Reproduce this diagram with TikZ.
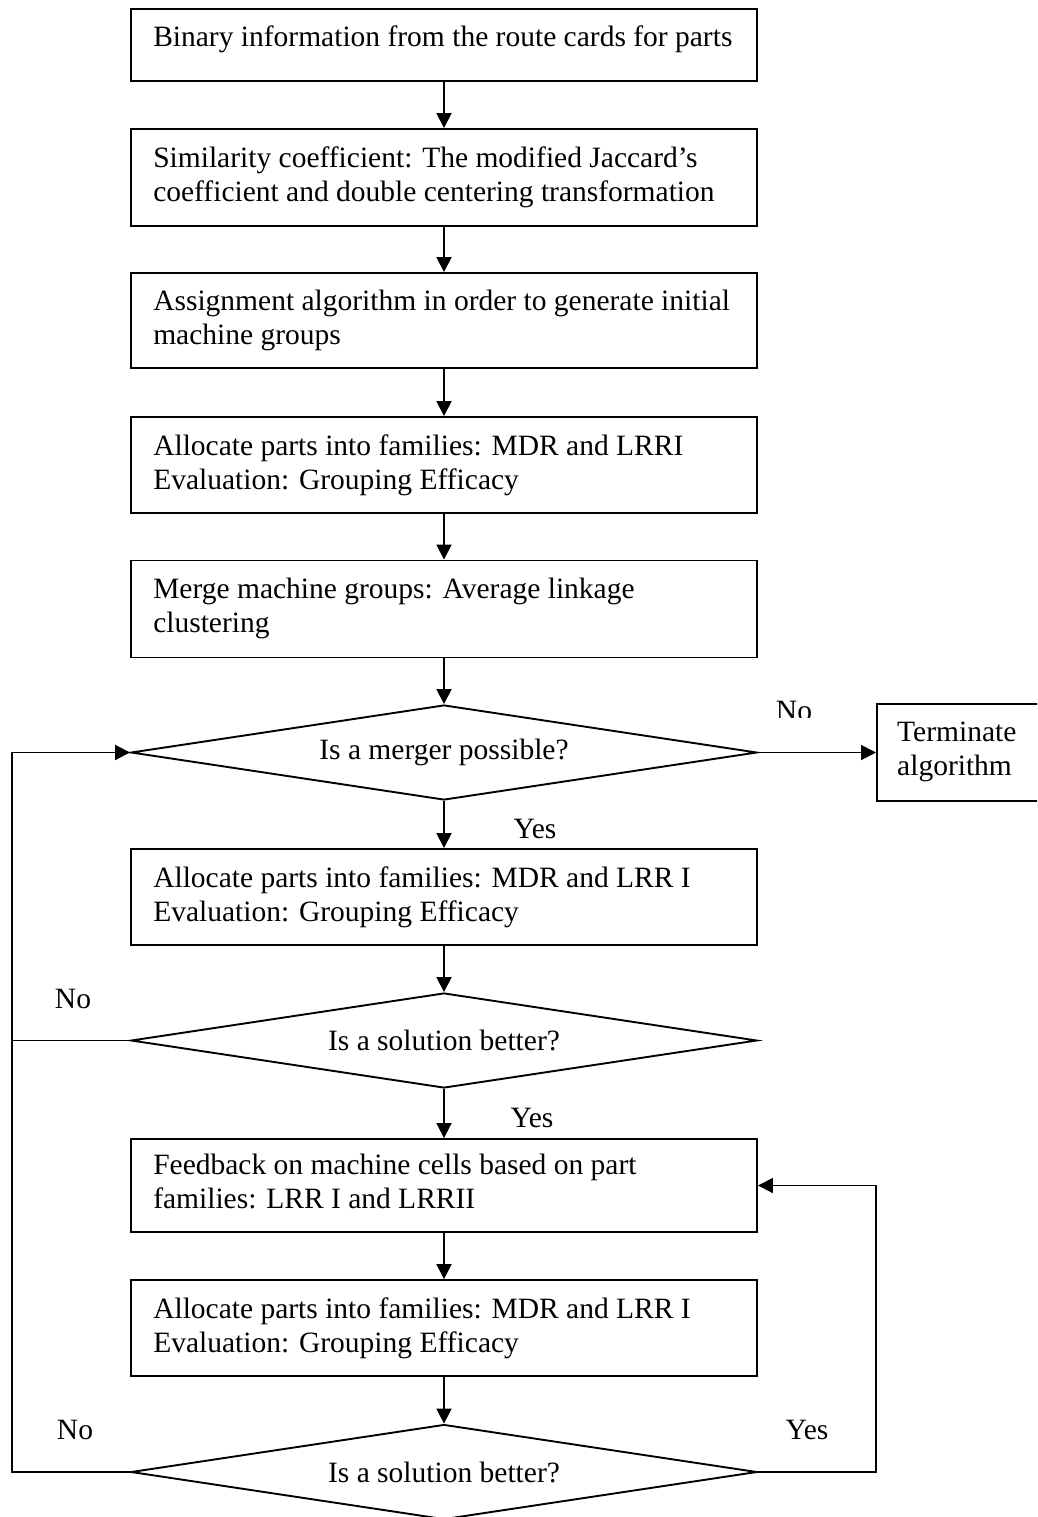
\documentclass[tikz,border=0pt]{standalone}
\usepackage{fontspec}
\setmainfont{Liberation Serif}
\usetikzlibrary{arrows.meta,shapes.geometric}
\begin{document}
\begin{tikzpicture}[x=1pt,y=-1pt,
  box/.style={draw, line width=1.9pt, rectangle, minimum width=626pt, inner sep=0pt},
  dia/.style={draw, line width=1.9pt, diamond, aspect=6.6, minimum width=626pt, minimum height=95pt, inner sep=0pt, font=\fontsize{29.5}{34}\selectfont},
  txt/.style={anchor=north west, inner sep=0pt, align=left, font=\fontsize{29.5}{34}\selectfont},
  lbl/.style={anchor=base, inner sep=0pt, font=\fontsize{29.5}{34}\selectfont},
  conn/.style={line width=1.9pt},
  arr/.style={conn, -{Triangle[length=15pt,width=15pt]}}]
\clip (0,0) rectangle (1037,1517);
% boxes
\node[box, minimum height=72pt] (b1) at (444,45) {};
\node[box, minimum height=97pt] (b2) at (444,177.5) {};
\node[box, minimum height=95pt] (b3) at (444,320.5) {};
\node[box, minimum height=96pt] (b4) at (444,465) {};
\node[box, minimum height=97pt] (b5) at (444,609) {};
\node[dia] (d1) at (444,752.5) {Is a merger possible?};
\node[box, minimum height=96pt] (b6) at (444,897) {};
\node[dia] (d2) at (444,1040.5) {Is a solution better?};
\node[box, minimum height=93pt] (b7) at (444,1185.5) {};
\node[box, minimum height=96pt] (b8) at (444,1328) {};
\node[dia] (d3) at (444,1472) {Is a solution better?};
\node[box, minimum width=200pt, minimum height=97pt, anchor=west] (term) at (876,752.5) {};
% texts
\node[txt] (t1) at ([xshift=23pt,yshift=-17pt]b1.north west) {Binary information from the route cards for parts};
\node[txt] (t2) at ([xshift=23pt,yshift=-18pt]b2.north west) {Similarity coefficient: The modified Jaccard’s\\coefficient and double centering transformation};
\node[txt] (t3) at ([xshift=23pt,yshift=-18pt]b3.north west) {Assignment algorithm in order to generate initial\\machine groups};
\node[txt] (t4) at ([xshift=23pt,yshift=-18pt]b4.north west) {Allocate parts into families: MDR and LRRI\\Evaluation: Grouping Efficacy};
\node[txt] (t5) at ([xshift=23pt,yshift=-18pt]b5.north west) {Merge machine groups: Average linkage\\clustering};
\node[txt] (t6) at ([xshift=23pt,yshift=-18pt]b6.north west) {Allocate parts into families: MDR and LRR I\\Evaluation: Grouping Efficacy};
\node[txt] (t7) at ([xshift=23pt,yshift=-16pt]b7.north west) {Feedback on machine cells based on part\\families: LRR I and LRRII};
\node[txt] (t8) at ([xshift=23pt,yshift=-18pt]b8.north west) {Allocate parts into families: MDR and LRR I\\Evaluation: Grouping Efficacy};
\node[txt] (tt) at ([xshift=21pt,yshift=-19pt]term.north west) {Terminate\\algorithm};
% labels
\begin{scope}
\clip (740,680) rectangle (850,717);
\node[lbl] (no1) at (794,720) {No};
\end{scope}
\node[lbl] (yes1) at (535,838) {Yes};
\node[lbl] (no2) at (73,1008) {No};
\node[lbl] (yes2) at (532,1127) {Yes};
\node[lbl] (no3) at (75,1439) {No};
\node[lbl] (yes3) at (807,1439) {Yes};
% connectors
\coordinate (lx) at (12,0);
\coordinate (rx) at (876,0);
\draw[arr] (b1.south) -- (b2.north);
\draw[arr] (b2.south) -- (b3.north);
\draw[arr] (b3.south) -- (b4.north);
\draw[arr] (b4.south) -- (b5.north);
\draw[arr] (b5.south) -- (d1.north);
\draw[arr] (d1.south) -- (b6.north);
\draw[arr] (b6.south) -- (d2.north);
\draw[arr] (d2.south) -- (b7.north);
\draw[arr] (b7.south) -- (b8.north);
\draw[arr] (b8.south) -- (d3.north);
\draw[arr] (d1.east) -- (term.west);
\draw[arr] (d3.west) -- (d3.west -| lx) |- (d1.west);
\draw[conn] (d2.west) -- (d2.west -| lx);
\draw[arr] (d3.east) -- (d3.east -| rx) |- (b7.east);
\end{tikzpicture}
\end{document}
